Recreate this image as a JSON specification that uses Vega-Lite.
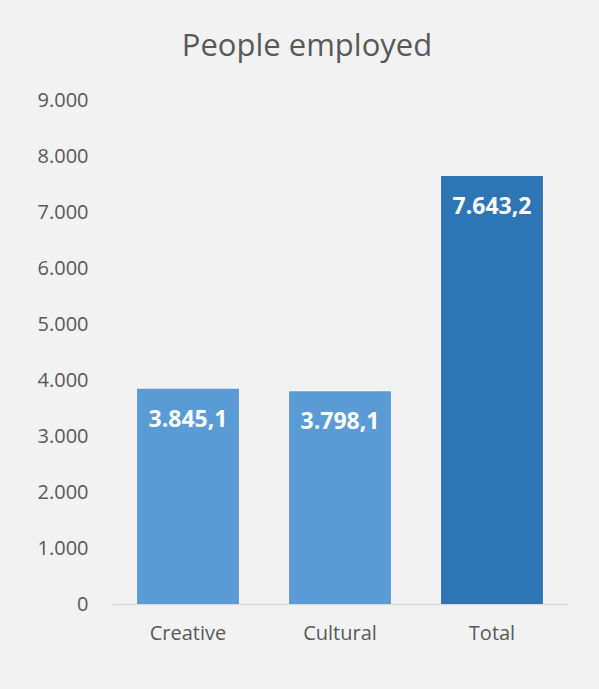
{
  "$schema": "https://vega.github.io/schema/vega-lite/v6.json",
  "width": 456,
  "height": 504,
  "autosize": {"type": "none"},
  "padding": {"left": 112, "top": 100, "right": 31, "bottom": 85},
  "background": "#F2F2F2",
  "config": {
    "locale": {"number": {"decimal": ",", "thousands": ".", "grouping": [3], "currency": ["", ""]}},
    "view": {"stroke": null},
    "font": "Open Sans"
  },
  "title": {
    "text": "People employed",
    "fontSize": 31,
    "fontWeight": "normal",
    "color": "#595959",
    "font": "Open Sans",
    "anchor": "middle",
    "frame": "group",
    "dx": -33,
    "offset": 27
  },
  "data": {
    "values": [
      {"category": "Creative", "value": 3845.1, "group": "part"},
      {"category": "Cultural", "value": 3798.1, "group": "part"},
      {"category": "Total", "value": 7643.2, "group": "total"}
    ]
  },
  "encoding": {
    "x": {
      "field": "category",
      "type": "nominal",
      "sort": null,
      "scale": {"paddingInner": 0.33, "paddingOuter": 0.165},
      "axis": {
        "title": null,
        "labelAngle": 0,
        "ticks": false,
        "domainColor": "#D9D9D9",
        "domainWidth": 1.5,
        "labelColor": "#595959",
        "labelFontSize": 20,
        "labelPadding": 19,
        "labelFont": "Open Sans"
      }
    },
    "y": {
      "field": "value",
      "type": "quantitative",
      "scale": {"domain": [0, 9000]},
      "axis": {
        "title": null,
        "values": [0, 1000, 2000, 3000, 4000, 5000, 6000, 7000, 8000, 9000],
        "format": ",d",
        "grid": false,
        "domain": false,
        "ticks": false,
        "labelColor": "#595959",
        "labelFontSize": 20,
        "labelPadding": 24,
        "labelFont": "Open Sans"
      }
    }
  },
  "layer": [
    {
      "mark": {"type": "bar"},
      "encoding": {
        "color": {
          "field": "group",
          "type": "nominal",
          "scale": {"domain": ["part", "total"], "range": ["#5B9BD5", "#2E75B6"]},
          "legend": null
        }
      }
    },
    {
      "mark": {"type": "text", "color": "white", "fontSize": 23, "fontWeight": "bold", "baseline": "middle", "align": "center", "dy": 31, "font": "Open Sans"},
      "encoding": {
        "text": {"field": "value", "type": "quantitative", "format": ",.1f"}
      }
    }
  ]
}
